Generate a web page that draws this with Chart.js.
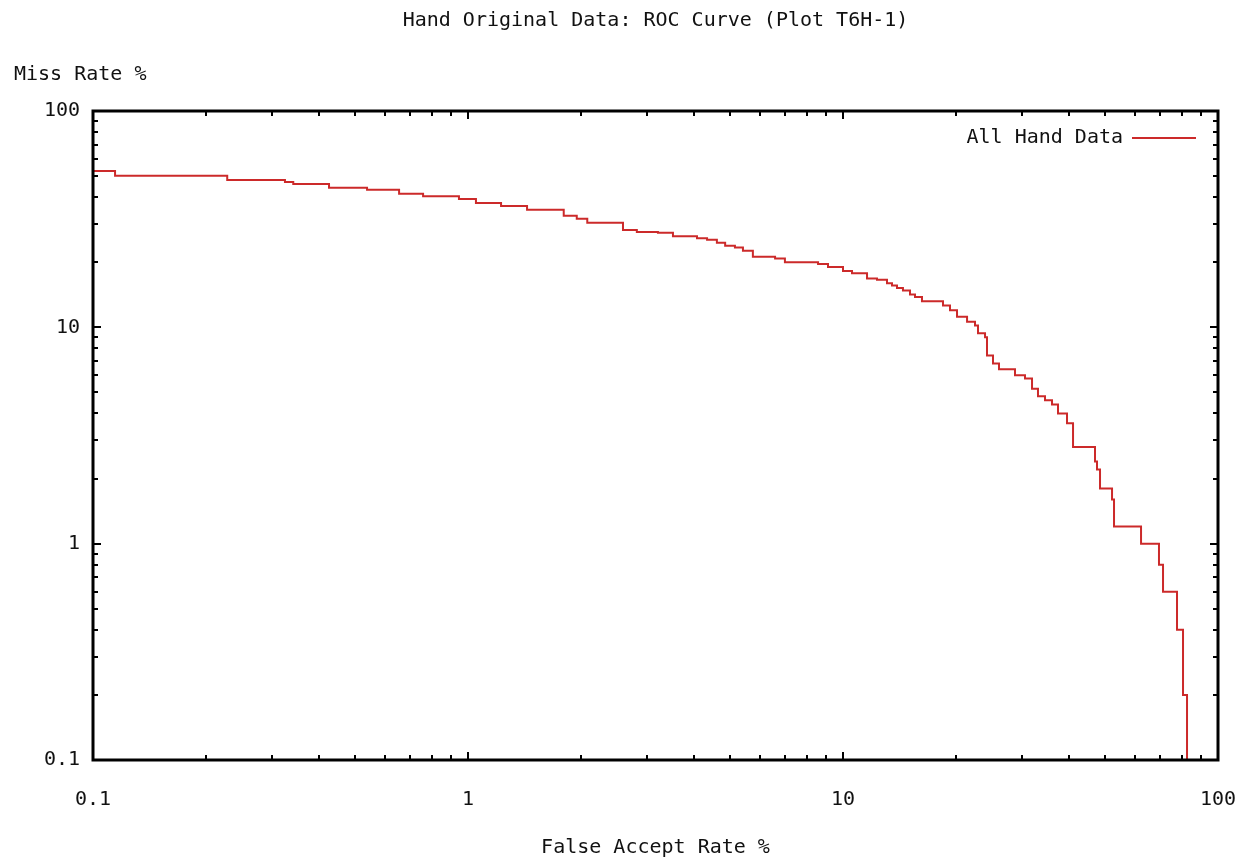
<!DOCTYPE html>
<html><head><meta charset="utf-8">
<script src="https://cdn.jsdelivr.net/npm/chart.js@4.4.1/dist/chart.umd.min.js"></script>
<style>html,body{margin:0;padding:0;background:#fff}#wrap{width:1245px;height:862px}</style>
</head><body><div id="wrap"><canvas id="c" width="1245" height="862"></canvas></div>
<script>
const falseAcceptRate = [0.1, 0.1145, 0.228, 0.325, 0.342, 0.426, 0.538, 0.655, 0.759, 0.946, 1.05, 1.225, 1.437, 1.80, 1.95, 2.08, 2.59, 2.82, 3.21, 3.52, 4.08, 4.34, 4.61, 4.85, 5.15, 5.41, 5.75, 6.59, 7.00, 8.58, 9.12, 10.0, 10.57, 11.59, 12.32, 13.10, 13.51, 13.93, 14.45, 15.09, 15.56, 16.24, 18.48, 19.29, 20.14, 21.42, 22.49, 22.91, 23.92, 24.21, 25.12, 26.06, 28.75, 30.57, 31.92, 33.11, 34.57, 36.09, 37.44, 39.57, 41.06, 46.99, 47.57, 48.46, 52.17, 52.81, 62.34, 69.6, 71.35, 77.75, 80.67, 82.68];
const missRate = [52.8, 50.2, 48.0, 47.0, 46.0, 44.2, 43.2, 41.4, 40.4, 39.2, 37.6, 36.4, 35.0, 32.8, 31.8, 30.4, 28.2, 27.6, 27.4, 26.4, 25.8, 25.4, 24.6, 23.8, 23.4, 22.6, 21.2, 20.8, 20.0, 19.6, 19.0, 18.2, 17.8, 16.8, 16.6, 16.0, 15.6, 15.2, 14.8, 14.2, 13.8, 13.2, 12.6, 12.0, 11.2, 10.6, 10.2, 9.4, 9.0, 7.4, 6.8, 6.4, 6.0, 5.8, 5.2, 4.8, 4.6, 4.4, 4.0, 3.6, 2.8, 2.4, 2.2, 1.8, 1.6, 1.2, 1.0, 0.8, 0.6, 0.4, 0.2, 0.1];
const xTickValues = [0.1, 1, 10, 100];
const xTickLabels = ['0.1', '1', '10', '100'];
const yTickValues = [0.1, 1, 10, 100];
const yTickLabels = ['0.1', '1', '10', '100'];
const titleText = 'Hand Original Data: ROC Curve (Plot T6H-1)';
const xAxisTitle = 'False Accept Rate %';
const yAxisTitle = 'Miss Rate %';
const seriesLabel = 'All Hand Data';
const seriesColor = '#cc2a2a';

const FONT = '"DejaVu Sans Mono", "Liberation Mono", monospace';

const points = falseAcceptRate.map((x, i) => ({x: x, y: missRate[i]}));

function minorValues(decades) {
  const out = [];
  for (let d = 0; d < decades.length - 1; d++) {
    for (let m = 2; m <= 9; m++) out.push(decades[d] * m);
  }
  return out;
}

const decor = {
  id: 'decor',
  afterDraw(chart) {
    const ctx = chart.ctx;
    const a = chart.chartArea;
    const xs = chart.scales.x, ys = chart.scales.y;
    ctx.save();
    ctx.strokeStyle = '#000';
    ctx.lineWidth = 2;
    const drawX = (vals, len) => {
      vals.forEach(v => {
        const px = Math.round(xs.getPixelForValue(v));
        ctx.beginPath();
        ctx.moveTo(px, a.bottom); ctx.lineTo(px, a.bottom - len);
        ctx.moveTo(px, a.top); ctx.lineTo(px, a.top + len);
        ctx.stroke();
      });
    };
    const drawY = (vals, len) => {
      vals.forEach(v => {
        const py = Math.round(ys.getPixelForValue(v));
        ctx.beginPath();
        ctx.moveTo(a.left, py); ctx.lineTo(a.left + len, py);
        ctx.moveTo(a.right, py); ctx.lineTo(a.right - len, py);
        ctx.stroke();
      });
    };
    drawX(xTickValues, 8); drawX(minorValues(xTickValues), 5);
    drawY(yTickValues, 8); drawY(minorValues(yTickValues), 5);
    ctx.lineWidth = 3;
    ctx.strokeRect(a.left, a.top, a.right - a.left, a.bottom - a.top);
    ctx.fillStyle = '#111';
    ctx.font = '20px ' + FONT;
    ctx.textBaseline = 'middle';
    ctx.textAlign = 'center';
    ctx.fillText(titleText, (a.left + a.right) / 2, 21);
    ctx.fillText(xAxisTitle, (a.left + a.right) / 2, 848);
    ctx.textAlign = 'left';
    ctx.fillText(yAxisTitle, 14, 75);
    ctx.textAlign = 'right';
    ctx.fillText(seriesLabel, 1123, 138);
    ctx.strokeStyle = seriesColor;
    ctx.lineWidth = 2;
    ctx.beginPath();
    ctx.moveTo(1132, 138); ctx.lineTo(1196, 138);
    ctx.stroke();
    ctx.restore();
  }
};

new Chart(document.getElementById('c'), {
  type: 'line',
  data: {
    datasets: [{
      label: seriesLabel,
      data: points,
      borderColor: seriesColor,
      borderWidth: 2,
      pointRadius: 0,
      stepped: true,
      fill: false,
      tension: 0
    }]
  },
  options: {
    responsive: false,
    devicePixelRatio: 1,
    animation: false,
    layout: { padding: { left: 0, right: 27, top: 111, bottom: 42 } },
    plugins: { legend: { display: false }, title: { display: false }, tooltip: { enabled: false } },
    scales: {
      x: {
        type: 'logarithmic', min: 0.1, max: 100,
        afterFit(s) { s.height = 60; s.paddingLeft = 0; s.paddingRight = 0; },
        afterBuildTicks(s) { s.ticks = xTickValues.map(v => ({value: v})); },
        grid: { display: false, drawTicks: false },
        border: { display: false },
        ticks: {
          autoSkip: false, maxRotation: 0, padding: 28, color: '#111',
          font: { family: FONT, size: 20 },
          callback: (v) => { const i = xTickValues.indexOf(v); return i >= 0 ? xTickLabels[i] : ''; }
        }
      },
      y: {
        type: 'logarithmic', min: 0.1, max: 100,
        afterFit(s) { s.width = 93; s.paddingTop = 0; s.paddingBottom = 0; },
        afterBuildTicks(s) { s.ticks = yTickValues.map(v => ({value: v})); },
        grid: { display: false, drawTicks: false },
        border: { display: false },
        ticks: {
          autoSkip: false, padding: 13, color: '#111',
          font: { family: FONT, size: 20 },
          callback: (v) => { const i = yTickValues.indexOf(v); return i >= 0 ? yTickLabels[i] : ''; }
        }
      }
    }
  },
  plugins: [decor]
});
</script>
</body></html>
